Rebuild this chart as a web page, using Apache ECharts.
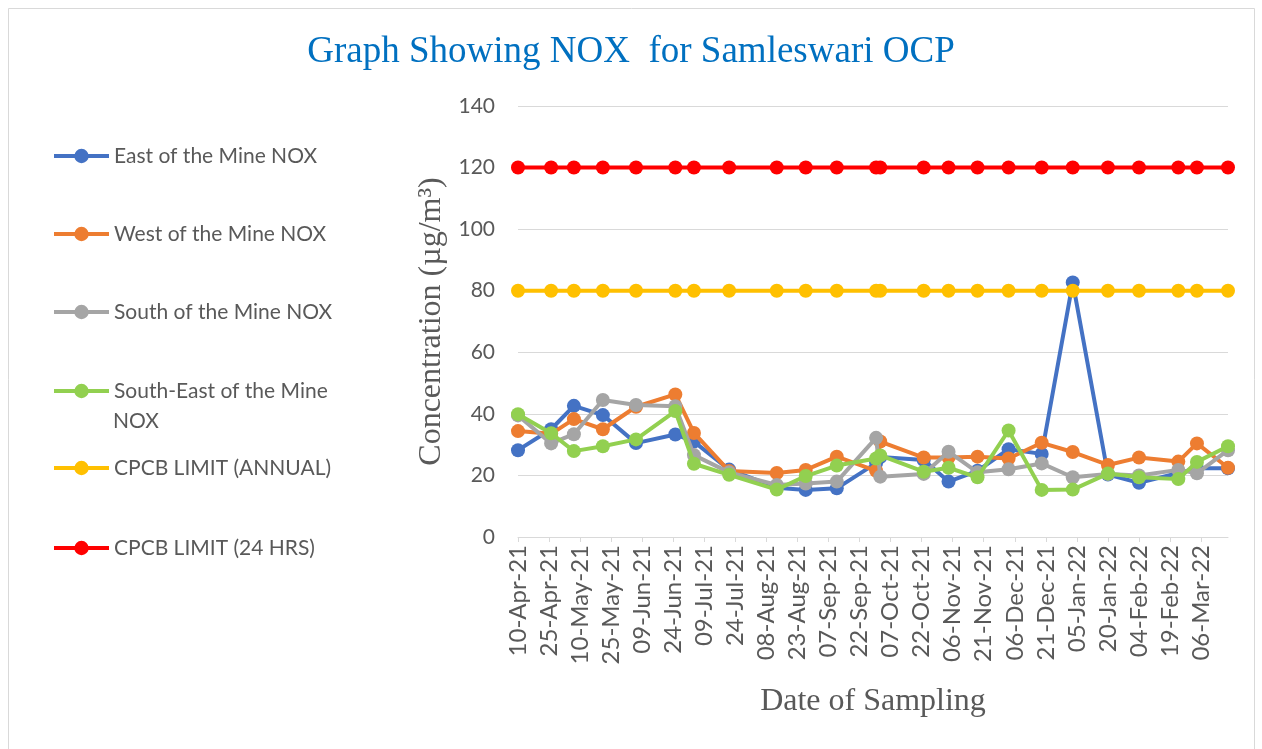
<!DOCTYPE html>
<html>
<head>
<meta charset="utf-8">
<script src="https://cdn.jsdelivr.net/npm/echarts@6/dist/echarts.min.js"></script>
<style>
  html, body { margin: 0; padding: 0; background: #fff; }
  #chart { width: 1262px; height: 749px; }
</style>
</head>
<body>
<div id="chart"></div>
<script>
// sampling dates and readings (µg/m³)
const startDate = '2021-04-10';
const sampleDates = [
  '2021-04-10', '2021-04-26', '2021-05-07', '2021-05-21', '2021-06-06', '2021-06-25',
  '2021-07-04', '2021-07-21', '2021-08-13', '2021-08-27', '2021-09-11', '2021-09-30',
  '2021-10-02', '2021-10-23', '2021-11-04', '2021-11-18', '2021-12-03', '2021-12-19',
  '2022-01-03', '2022-01-20', '2022-02-04', '2022-02-23', '2022-03-04', '2022-03-19'
];
const eastNox = [28.2, 35.0, 42.6, 39.6, 30.5, 33.3, 31.0, 21.9, 16.0, 15.3, 15.8, 24.0,
  26.0, 25.0, 18.0, 21.5, 28.5, 27.0, 82.7, 20.3, 17.6, 20.8, 22.3, 22.3];
const westNox = [34.4, 33.5, 38.3, 35.0, 42.3, 46.3, 33.8, 21.4, 20.8, 21.8, 26.1, 21.5,
  31.0, 25.8, 25.8, 26.1, 25.5, 30.6, 27.6, 23.4, 25.8, 24.5, 30.4, 22.5];
const southNox = [39.5, 30.4, 33.4, 44.5, 42.9, 42.5, 26.6, 21.0, 16.9, 17.4, 18.0, 32.2,
  19.6, 20.5, 27.7, 21.0, 22.0, 23.9, 19.4, 20.5, 20.0, 21.8, 20.7, 28.2];
const southEastNox = [39.9, 33.7, 27.9, 29.5, 31.7, 40.9, 23.8, 20.2, 15.4, 19.8, 23.2, 25.5,
  26.5, 21.2, 22.5, 19.4, 34.6, 15.3, 15.4, 20.6, 19.4, 18.8, 24.4, 29.5];
const annualLimit = [80, 80, 80, 80, 80, 80, 80, 80, 80, 80, 80, 80,
  80, 80, 80, 80, 80, 80, 80, 80, 80, 80, 80, 80];
const dailyLimit = [120, 120, 120, 120, 120, 120, 120, 120, 120, 120, 120, 120,
  120, 120, 120, 120, 120, 120, 120, 120, 120, 120, 120, 120];

const tickDates = [
  '10-Apr-21', '25-Apr-21', '10-May-21', '25-May-21', '09-Jun-21', '24-Jun-21',
  '09-Jul-21', '24-Jul-21', '08-Aug-21', '23-Aug-21', '07-Sep-21', '22-Sep-21',
  '07-Oct-21', '22-Oct-21', '06-Nov-21', '21-Nov-21', '06-Dec-21', '21-Dec-21',
  '05-Jan-22', '20-Jan-22', '04-Feb-22', '19-Feb-22', '06-Mar-22'
];
const yTicks = [0, 20, 40, 60, 80, 100, 120, 140];

const seriesNames = [
  'East of the Mine NOX', 'West of the Mine NOX', 'South of the Mine NOX',
  'South-East of the Mine NOX', 'CPCB LIMIT (ANNUAL)', 'CPCB LIMIT (24 HRS)'
];
const seriesValues = [eastNox, westNox, southNox, southEastNox, annualLimit, dailyLimit];
const colors = ['#4472C4', '#ED7D31', '#A5A5A5', '#92D050', '#FFC000', '#FF0000'];

const months = ['Jan', 'Feb', 'Mar', 'Apr', 'May', 'Jun', 'Jul', 'Aug', 'Sep', 'Oct', 'Nov', 'Dec'];
const DAY = 86400000;
const t0 = Date.parse(startDate + 'T00:00:00Z');
const dayOf = iso => Math.round((Date.parse(iso + 'T00:00:00Z') - t0) / DAY);
const labelToDay = s => {
  const p = s.split('-');
  const iso = '20' + p[2] + '-' + String(months.indexOf(p[1]) + 1).padStart(2, '0') + '-' + p[0];
  return dayOf(iso);
};
const tickDays = tickDates.map(labelToDay);
const tickLabelMap = {};
tickDays.forEach((d, i) => { tickLabelMap[d] = tickDates[i]; });
const sampleDays = sampleDates.map(dayOf);

const txt = '#595959';
const chart = echarts.init(document.getElementById('chart'), null, { renderer: 'canvas' });

// legend rows (centre y of each entry)
const legendY = [156, 234, 312, 391, 468, 548];

const option = {
  backgroundColor: '#fff',
  animation: false,
  title: {
    text: 'Graph Showing NOX  for Samleswari OCP',
    left: 'center',
    top: 29,
    textStyle: { fontFamily: 'Liberation Serif', fontSize: 37, fontWeight: 'normal', color: '#0070C0' }
  },
  legend: seriesNames.map((name, i) => ({
    data: [name],
    left: 52,
    top: legendY[i] - 12,
    padding: 0,
    itemWidth: 55,
    itemHeight: 18,
    selectedMode: false,
    lineStyle: { width: 4 },
    formatter: n => n === 'South-East of the Mine NOX' ? 'South-East of the Mine' : n,
    textStyle: { fontFamily: 'Lato', fontSize: 21, color: txt, lineHeight: 24 }
  })),
  graphic: [
    {
      type: 'rect', silent: true,
      shape: { x: 8.5, y: 8.5, width: 1246, height: 760 },
      style: { fill: 'none', stroke: '#D9D9D9', lineWidth: 1 }
    },
    {
      type: 'text', left: 113, top: 411,
      style: { text: 'NOX', fontFamily: 'Lato', fontSize: 21, fill: txt }
    }
  ],
  grid: { left: 518, right: 34, top: 106, bottom: 212 },
  xAxis: {
    type: 'value',
    min: 0,
    max: sampleDays[sampleDays.length - 1],
    name: 'Date of Sampling',
    nameLocation: 'middle',
    nameGap: 149,
    nameTextStyle: { fontFamily: 'Liberation Serif', fontSize: 32, color: txt },
    axisLine: { show: true, lineStyle: { color: '#D9D9D9', width: 1 } },
    axisTick: { show: true, length: 5, lineStyle: { color: '#D9D9D9' }, customValues: tickDays },
    splitLine: { show: false },
    axisLabel: {
      customValues: tickDays,
      rotate: 90,
      margin: 8,
      fontFamily: 'Lato',
      fontSize: 24,
      color: txt,
      formatter: v => tickLabelMap[v] || ''
    }
  },
  yAxis: {
    type: 'value',
    min: yTicks[0],
    max: yTicks[yTicks.length - 1],
    interval: 20,
    name: 'Concentration (µg/m³)',
    nameLocation: 'middle',
    nameGap: 70,
    nameTextStyle: { fontFamily: 'Liberation Serif', fontSize: 32, color: txt },
    axisLine: { show: false },
    axisTick: { show: false },
    splitLine: { lineStyle: { color: '#D9D9D9', width: 1 } },
    axisLabel: { margin: 23, fontFamily: 'Lato', fontSize: 21, color: txt }
  },
  series: seriesNames.map((name, i) => ({
    name,
    type: 'line',
    data: sampleDays.map((d, k) => [d, seriesValues[i][k]]),
    symbol: 'circle',
    symbolSize: 14,
    itemStyle: { color: colors[i] },
    lineStyle: { color: colors[i], width: 4 },
    z: 2 + i
  }))
};

chart.setOption(option);
</script>
</body>
</html>
